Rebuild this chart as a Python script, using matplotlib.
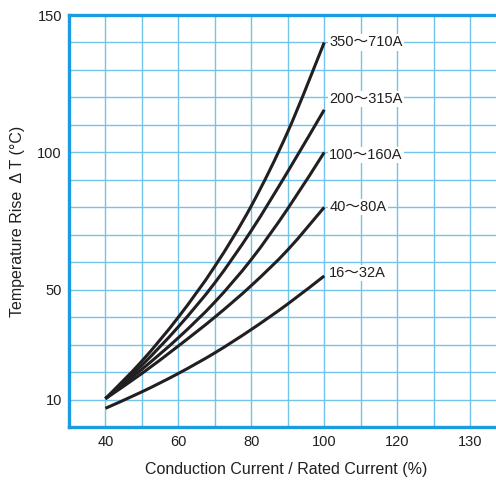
import matplotlib
matplotlib.use("Agg")
import matplotlib.pyplot as plt
import numpy as np
from matplotlib.path import Path
from matplotlib.patches import PathPatch
from matplotlib.ticker import MultipleLocator

# Values
current_pct = [40, 50, 60, 70, 80, 90, 100]
rise_350_710 = [10.3, 24.0, 40.0, 58.5, 80.5, 107.5, 140.0]
rise_200_315 = [10.3, 22.5, 36.5, 52.5, 71.5, 93.0, 115.5]
rise_100_160 = [10.3, 21.0, 32.5, 45.5, 61.0, 79.5, 100.0]
rise_40_80 = [10.3, 19.5, 29.5, 40.0, 51.5, 64.5, 80.0]
rise_16_32 = [6.8, 12.8, 19.5, 27.0, 35.5, 44.8, 55.0]

series_labels = ["350～710A", "200～315A", "100～160A", "40～80A", "16～32A"]
series_values = [rise_350_710, rise_200_315, rise_100_160, rise_40_80, rise_16_32]

x_tick_pos = [40, 60, 80, 100, 120, 140]
x_tick_labels = ["40", "60", "80", "100", "120", "130"]
y_tick_pos = [10, 50, 100, 150]

FONT = ["Liberation Sans", "Noto Sans CJK JP"]
plt.rcParams["font.family"] = FONT

SPINE = "#1b9be0"
GRID = "#72c4ea"
INK = "#231f20"


def smooth_path(xs, ys):
    # Catmull-Rom through the read points, drawn as cubic Bezier segments
    pts = np.column_stack([xs, ys]).astype(float)
    verts = [pts[0]]
    codes = [Path.MOVETO]
    n = len(pts)
    for i in range(n - 1):
        p0 = pts[i - 1] if i > 0 else pts[i]
        p1 = pts[i]
        p2 = pts[i + 1]
        p3 = pts[i + 2] if i + 2 < n else pts[i + 1]
        c1 = p1 + (p2 - p0) / 6.0
        c2 = p2 - (p3 - p1) / 6.0
        verts.extend([c1, c2, p2])
        codes.extend([Path.CURVE4] * 3)
    return Path(verts, codes)


fig = plt.figure(figsize=(4.96, 4.86), dpi=100)
ax = fig.add_axes([0.139, 0.1214, 0.875, 0.8477])

ax.set_xlim(30, 149)
ax.set_ylim(0, 150)

ax.set_xticks(x_tick_pos)
ax.set_xticklabels(x_tick_labels)
ax.set_yticks(y_tick_pos)
ax.xaxis.set_minor_locator(MultipleLocator(10))
ax.yaxis.set_minor_locator(MultipleLocator(10))
ax.grid(True, which="both", color=GRID, linewidth=1.0)
ax.set_axisbelow(True)
ax.tick_params(which="both", length=0)
ax.tick_params(axis="x", labelsize=10.5, colors=INK, pad=6)
ax.tick_params(axis="y", labelsize=10.5, colors=INK, pad=5)

for side in ("left", "top", "bottom"):
    ax.spines[side].set_color(SPINE)
    ax.spines[side].set_linewidth(2.4)
ax.spines["right"].set_visible(False)

for label, values in zip(series_labels, series_values):
    patch = PathPatch(smooth_path(current_pct, values), facecolor="none",
                      edgecolor=INK, linewidth=2.2, capstyle="butt", zorder=3)
    ax.add_patch(patch)

label_y = [140, 119.5, 99, 80, 56]
for label, y in zip(series_labels, label_y):
    ax.text(101.4, y, label, fontsize=10.5, color=INK, va="center", ha="left",
            bbox=dict(facecolor="white", edgecolor="none", pad=0.8), zorder=4)

ax.set_xlabel("Conduction Current / Rated Current (%)", fontsize=11.5,
              color=INK, labelpad=9)
ax.set_ylabel("Temperature Rise  Δ T (°C)", fontsize=11.5, color=INK)
ax.yaxis.set_label_coords(-0.101, 0.5)

fig.savefig("out.png", dpi=100)
